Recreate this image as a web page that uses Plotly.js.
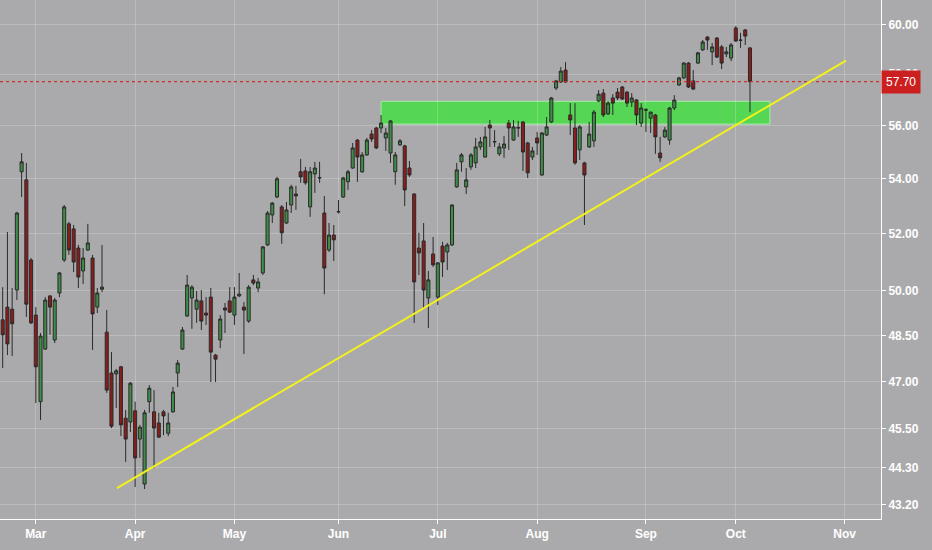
<!DOCTYPE html>
<html>
<head>
<meta charset="utf-8">
<script src="https://cdn.plot.ly/plotly-3.0.1.min.js"></script>
<style>
  html, body { margin: 0; padding: 0; background: #aaaaac; }
  #chart { width: 932px; height: 550px; }
</style>
</head>
<body>
<div id="chart"></div>
<script>
// Daily bars, Feb 20 - Oct 4 2018 (trading days only)
const dates = [
    "2018-02-20", "2018-02-21", "2018-02-22", "2018-02-23", "2018-02-26", "2018-02-27", "2018-02-28",
    "2018-03-01", "2018-03-02", "2018-03-05", "2018-03-06", "2018-03-07", "2018-03-08", "2018-03-09",
    "2018-03-12", "2018-03-13", "2018-03-14", "2018-03-15", "2018-03-16", "2018-03-19", "2018-03-20",
    "2018-03-21", "2018-03-22", "2018-03-23", "2018-03-26", "2018-03-27", "2018-03-28", "2018-03-29",
    "2018-04-02", "2018-04-03", "2018-04-04", "2018-04-05", "2018-04-06", "2018-04-09", "2018-04-10",
    "2018-04-11", "2018-04-12", "2018-04-13", "2018-04-16", "2018-04-17", "2018-04-18", "2018-04-19",
    "2018-04-20", "2018-04-23", "2018-04-24", "2018-04-25", "2018-04-26", "2018-04-27", "2018-04-30",
    "2018-05-01", "2018-05-02", "2018-05-03", "2018-05-04", "2018-05-07", "2018-05-08", "2018-05-09",
    "2018-05-10", "2018-05-11", "2018-05-14", "2018-05-15", "2018-05-16", "2018-05-17", "2018-05-18",
    "2018-05-21", "2018-05-22", "2018-05-23", "2018-05-24", "2018-05-25", "2018-05-29", "2018-05-30",
    "2018-05-31",
    "2018-06-01", "2018-06-04", "2018-06-05", "2018-06-06", "2018-06-07", "2018-06-08", "2018-06-11",
    "2018-06-12", "2018-06-13", "2018-06-14", "2018-06-15", "2018-06-18", "2018-06-19", "2018-06-20",
    "2018-06-21", "2018-06-22", "2018-06-25", "2018-06-26", "2018-06-27", "2018-06-28", "2018-06-29",
    "2018-07-02", "2018-07-03", "2018-07-05", "2018-07-06", "2018-07-09", "2018-07-10", "2018-07-11",
    "2018-07-12", "2018-07-13", "2018-07-16", "2018-07-17", "2018-07-18", "2018-07-19", "2018-07-20",
    "2018-07-23", "2018-07-24", "2018-07-25", "2018-07-26", "2018-07-27", "2018-07-30", "2018-07-31",
    "2018-08-01", "2018-08-02", "2018-08-03", "2018-08-06", "2018-08-07", "2018-08-08", "2018-08-09",
    "2018-08-10", "2018-08-13", "2018-08-14", "2018-08-15", "2018-08-16", "2018-08-17", "2018-08-20",
    "2018-08-21", "2018-08-22", "2018-08-23", "2018-08-24", "2018-08-27", "2018-08-28", "2018-08-29",
    "2018-08-30", "2018-08-31",
    "2018-09-04", "2018-09-05", "2018-09-06", "2018-09-07", "2018-09-10", "2018-09-11", "2018-09-12",
    "2018-09-13", "2018-09-14", "2018-09-17", "2018-09-18", "2018-09-19", "2018-09-20", "2018-09-21",
    "2018-09-24", "2018-09-25", "2018-09-26", "2018-09-27", "2018-09-28",
    "2018-10-01", "2018-10-02", "2018-10-03", "2018-10-04",
];

const open = [
    49.02, 49.45, 49.38, 50.03, 54.25, 53.95, 51.07,
    49.18, 46.35, 48.05, 49.83, 48.35, 49.93, 51.07, 52.35, 52.17, 51.49, 50.69, 51.42, 51.14, 49.45,
    50.06, 48.61, 47.27, 47.24, 47.47, 45.83, 45.71,
    46.06, 45.18, 43.81, 46.35, 46.03, 45.68, 46.03, 45.36, 46.03, 47.27, 48.05, 49.15, 49.76, 49.38,
    49.66, 49.25, 49.79, 47.85, 48.35, 49.42, 49.66,
    49.18, 49.83, 49.45, 48.98, 50.38, 50.10, 50.62, 51.60, 52.67, 53.32, 52.96, 52.38, 53.03, 53.43,
    54.25, 54.28, 52.96, 54.17, 54.02, 52.74, 51.42, 51.95,
    52.78, 53.32, 53.88, 54.39, 55.44, 54.25, 54.88, 55.67, 55.90, 55.90, 55.52, 54.95, 54.25, 55.26,
    55.22, 54.39, 53.43, 51.49, 51.74, 49.76, 51.28,
    49.79, 51.56, 51.35, 51.60, 53.69, 54.62, 53.69, 54.43, 54.58, 55.18, 54.80, 56.01, 55.37, 54.92,
    55.14, 56.09, 55.44, 55.90, 56.13, 55.33, 54.80,
    55.52, 54.13, 55.63, 56.13, 57.45, 57.69, 58.16, 56.40, 55.90, 55.07, 54.58, 55.18, 55.41, 56.94,
    57.25, 56.44, 57.06, 57.29, 57.49, 57.29, 56.90, 56.98, 56.09,
    56.59, 56.28, 56.40, 54.95, 55.56, 55.44, 56.67, 57.57, 57.85, 58.44, 57.73, 58.44, 58.97, 59.49,
    58.89, 59.45, 59.09, 58.81, 58.64,
    59.86, 59.37, 59.78, 59.05,
];

const high = [
    50.13, 52.06, 50.10, 52.78, 54.95, 54.58, 51.14,
    49.45, 48.58, 49.79, 49.86, 49.76, 50.65, 53.03, 52.42, 52.31, 51.60, 51.49, 52.35, 51.25, 50.10,
    51.60, 49.35, 47.95, 47.40, 47.50, 46.09, 46.98,
    46.35, 45.62, 46.09, 46.88, 46.72, 46.00, 46.09, 46.00, 46.82, 47.69, 48.78, 50.55, 50.20, 50.00,
    50.03, 49.79, 50.10, 47.89, 49.18, 49.59, 50.13,
    50.13, 50.62, 49.62, 50.20, 50.55, 50.45, 51.56, 52.81, 53.14, 54.06, 53.03, 53.14, 53.77, 53.73,
    54.73, 54.43, 54.43, 54.62, 54.62, 53.36, 52.38, 52.31,
    53.21, 54.06, 54.32, 55.33, 55.48, 54.99, 55.52, 55.82, 55.94, 56.40, 55.90, 56.21, 54.99, 55.48,
    55.26, 54.65, 53.46, 52.03, 52.38, 50.69, 51.88,
    51.00, 51.71, 51.67, 53.06, 54.58, 54.95, 54.39, 54.95, 55.52, 55.56, 55.94, 56.21, 55.82, 55.33,
    55.60, 56.21, 56.21, 56.17, 56.17, 55.37, 55.18,
    55.75, 55.74, 56.32, 57.10, 57.77, 58.28, 58.48, 56.86, 56.86, 56.01, 54.62, 56.13, 56.59, 57.37,
    57.41, 56.94, 57.21, 57.45, 57.53, 57.33, 57.25, 57.02, 56.86,
    56.67, 56.53, 56.44, 55.56, 55.94, 56.71, 57.17, 57.89, 58.48, 58.48, 58.16, 58.89, 59.37, 59.53,
    59.25, 59.49, 59.17, 59.09, 59.25,
    59.94, 59.66, 59.82, 59.08,
];

const low = [
    47.43, 47.85, 47.82, 49.69, 53.32, 49.12, 48.88,
    46.31, 45.77, 48.02, 48.52, 48.25, 49.79, 51.00, 51.25, 50.65, 50.10, 50.24, 51.39, 48.02, 49.25,
    49.96, 46.63, 45.52, 46.15, 45.27, 44.48, 45.40,
    43.72, 44.60, 43.66, 46.00, 44.29, 45.21, 45.30, 45.27, 46.00, 46.82, 48.02, 49.12, 48.72, 48.92,
    48.68, 48.85, 46.98, 46.98, 48.08, 48.58, 49.25,
    48.85, 49.79, 47.89, 48.92, 50.20, 49.96, 50.55, 51.56, 52.38, 53.28, 51.64, 52.35, 52.74, 52.85,
    53.84, 53.77, 52.60, 53.47, 53.84, 49.89, 51.35, 51.04,
    52.72, 53.29, 53.58, 54.36, 53.88, 54.21, 54.84, 55.37, 55.10, 55.71, 55.03, 54.58, 53.77, 55.22,
    52.99, 54.06, 48.92, 50.55, 49.38, 48.75, 50.83,
    49.52, 50.48, 50.72, 51.56, 53.66, 54.25, 53.43, 54.32, 54.39, 55.07, 54.77, 55.18, 55.18, 54.84,
    54.77, 55.07, 55.41, 55.56, 54.28, 54.02, 54.69,
    54.88, 54.10, 55.60, 56.09, 57.37, 57.65, 57.65, 55.63, 54.51, 54.69, 52.31, 55.14, 55.18, 56.90,
    56.32, 56.40, 56.40, 56.98, 56.98, 56.71, 56.71, 56.01, 55.94,
    55.75, 55.71, 54.92, 54.62, 55.52, 55.26, 56.59, 57.53, 57.81, 57.45, 57.37, 58.40, 58.93, 58.97,
    58.36, 58.64, 58.20, 58.68, 58.52,
    59.29, 59.05, 59.17, 56.51,
];

const close = [
    48.52, 48.22, 48.89, 52.74, 54.62, 49.55, 48.92,
    47.47, 48.48, 49.69, 49.45, 49.69, 50.62, 52.96, 51.42, 51.00, 50.48, 51.14, 51.67, 49.22, 49.93,
    50.13, 46.72, 45.58, 47.34, 45.62, 45.18, 46.94,
    44.60, 45.55, 46.00, 46.78, 45.52, 45.24, 45.90, 45.68, 46.66, 47.59, 48.68, 50.20, 50.13, 49.69,
    48.98, 49.18, 47.95, 47.72, 49.05, 49.35, 49.28,
    49.79, 49.89, 49.35, 50.13, 50.27, 50.31, 51.53, 52.74, 53.10, 53.99, 52.03, 52.85, 53.69, 53.36,
    54.06, 53.84, 54.25, 54.39, 54.03, 50.79, 51.95, 51.78,
    52.79, 54.02, 54.25, 55.14, 54.80, 54.88, 55.44, 55.48, 55.14, 56.09, 55.71, 56.17, 54.88, 55.41,
    53.58, 54.13, 50.31, 51.32, 50.03, 50.38, 50.90,
    50.97, 51.00, 51.60, 53.03, 54.32, 54.88, 53.95, 54.88, 55.18, 55.37, 55.56, 55.90, 55.38, 55.18,
    55.29, 55.90, 55.94, 55.91, 54.99, 54.21, 55.03,
    55.33, 55.71, 55.94, 57.06, 57.73, 58.12, 57.69, 56.21, 54.58, 55.94, 54.13, 55.67, 56.51, 57.21,
    56.40, 56.86, 56.86, 57.06, 57.02, 56.86, 57.06, 56.40, 56.67,
    56.60, 56.51, 55.56, 54.77, 55.82, 56.67, 56.98, 57.85, 58.44, 57.49, 57.41, 58.85, 59.29, 59.37,
    59.09, 58.68, 58.44, 58.89, 59.17,
    59.33, 59.36, 59.53, 57.70,
];

// Market holidays inside the window
const holidays = ["2018-02-19", "2018-03-30", "2018-05-28", "2018-07-04", "2018-09-03"];

// Month labels sit on the first trading day of each month
const monthTicks = ["2018-03-01", "2018-04-02", "2018-05-01", "2018-06-01", "2018-07-02",
    "2018-08-01", "2018-09-04", "2018-10-01", "2018-11-01"];
const monthLabels = ["Mar", "Apr", "May", "Jun", "Jul", "Aug", "Sep", "Oct", "Nov"];

const priceTicks = [43.2, 44.3, 45.5, 47, 48.5, 50, 52, 54, 56, 58, 60];

// Drawn analysis: support trend line and resistance zone
const trendDates = ["2018-03-26 15:50", "2018-11-01 19:12"];
const trendPrices = [43.69, 58.54];
const zoneDates = ["2018-06-14 12:00", "2018-10-10 16:48"];
const zonePrices = [56.05, 56.93];

const lastClose = close[close.length - 1];
const noon = d => d + " 12:00";
const grid = "rgba(255,255,255,0.2)";
const white = "#ffffff";

Plotly.newPlot("chart", [{
    type: "candlestick",
    x: dates.map(noon),
    open: open, high: high, low: low, close: close,
    increasing: { line: { color: "#2a2a2a", width: 1 }, fillcolor: "#3f8d47" },
    decreasing: { line: { color: "#2a2a2a", width: 1 }, fillcolor: "#8c1c1c" },
    whiskerwidth: 0,
    hoverinfo: "skip",
}], {
    width: 932,
    height: 550,
    margin: { l: 0, r: 51, t: 0, b: 31, pad: 0 },
    paper_bgcolor: "#aaaaac",
    plot_bgcolor: "#aaaaac",
    showlegend: false,
    boxgap: 0.08,
    font: { family: "Liberation Sans, Arial, sans-serif", size: 12, color: white },
    xaxis: {
        type: "date",
        range: ["2018-02-16 22:20", "2018-11-13 04:48"],
        rangebreaks: [{ bounds: ["sat", "mon"] }, { values: holidays }],
        rangeslider: { visible: false },
        tickmode: "array",
        tickvals: monthTicks.map(noon),
        ticktext: monthLabels,
        tickfont: { size: 12, color: white, weight: "bold" },
        ticks: "outside", ticklen: 4, tickcolor: white,
        showgrid: true, gridcolor: grid, gridwidth: 1,
        showline: true, linecolor: white, linewidth: 1,
        zeroline: false,
        fixedrange: true,
    },
    yaxis: {
        type: "log",
        side: "right",
        range: [1.63118, 1.78546],
        tickmode: "array",
        tickvals: priceTicks,
        ticktext: priceTicks.map(v => v.toFixed(2)),
        tickfont: { size: 12, color: white, weight: "bold" },
        ticks: "outside", ticklen: 4, tickcolor: white,
        showgrid: true, gridcolor: grid, gridwidth: 1,
        showline: true, linecolor: white, linewidth: 1,
        zeroline: false,
        fixedrange: true,
    },
    shapes: [{
        type: "rect", layer: "below",
        xref: "x", yref: "y",
        x0: zoneDates[0], x1: zoneDates[1],
        y0: zonePrices[0], y1: zonePrices[1],
        fillcolor: "#55d655",
        line: { color: "#a6eca6", width: 1 },
    }, {
        type: "line", xref: "paper", yref: "y",
        x0: 0, x1: 1, y0: lastClose, y1: lastClose,
        line: { color: "#d2302a", width: 1.2, dash: "dot" },
    }, {
        type: "line", xref: "x", yref: "y",
        x0: trendDates[0], x1: trendDates[1],
        y0: trendPrices[0], y1: trendPrices[1],
        line: { color: "#f2f21a", width: 2 },
    }],
    annotations: [{
        xref: "paper", yref: "y",
        x: 1, xanchor: "left", xshift: 0,
        y: Math.log10(lastClose), yanchor: "middle",
        text: lastClose.toFixed(2),
        showarrow: false,
        bgcolor: "#cc1f1f",
        borderpad: 4,
        font: { size: 12, color: white },
    }],
}, { displayModeBar: false, staticPlot: true });
</script>
</body>
</html>
